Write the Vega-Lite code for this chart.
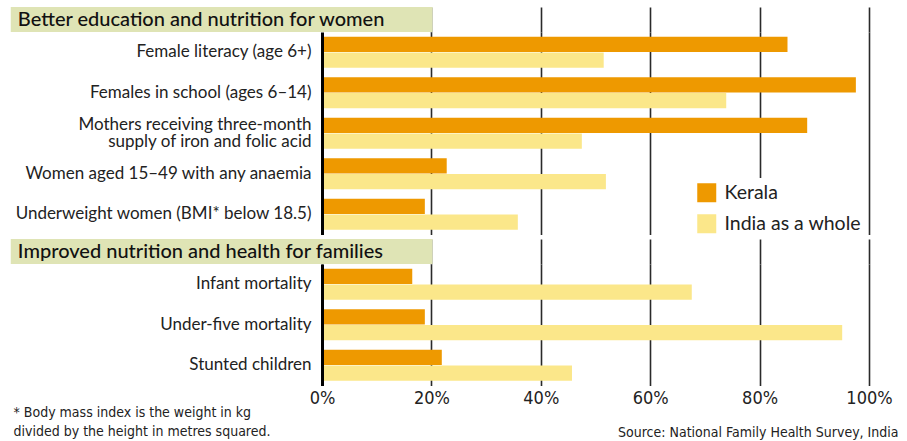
{
  "$schema": "https://vega.github.io/schema/vega-lite/v6.json",
  "background": "white",
  "padding": {"left": 10, "top": 7, "right": 10, "bottom": 0},
  "spacing": 0,
  "config": {
    "view": {"stroke": null},
    "font": "Lato",
    "axis": {"labelColor": "#222", "titleColor": "#222"}
  },
  "datasets": {
    "bars": [
      {"group": "A", "item": "Female literacy (age 6+)", "area": "Kerala", "value": 85.1},
      {"group": "A", "item": "Female literacy (age 6+)", "area": "India as a whole", "value": 51.5},
      {"group": "A", "item": "Females in school (ages 6–14)", "area": "Kerala", "value": 97.6},
      {"group": "A", "item": "Females in school (ages 6–14)", "area": "India as a whole", "value": 73.9},
      {"group": "A", "item": "Mothers receiving three-month|supply of iron and folic acid", "area": "Kerala", "value": 88.7},
      {"group": "A", "item": "Mothers receiving three-month|supply of iron and folic acid", "area": "India as a whole", "value": 47.5},
      {"group": "A", "item": "Women aged 15–49 with any anaemia", "area": "Kerala", "value": 22.8},
      {"group": "A", "item": "Women aged 15–49 with any anaemia", "area": "India as a whole", "value": 51.9},
      {"group": "A", "item": "Underweight women (BMI* below 18.5)", "area": "Kerala", "value": 18.8},
      {"group": "A", "item": "Underweight women (BMI* below 18.5)", "area": "India as a whole", "value": 35.8},
      {"group": "B", "item": "Infant mortality", "area": "Kerala", "value": 16.5},
      {"group": "B", "item": "Infant mortality", "area": "India as a whole", "value": 67.6},
      {"group": "B", "item": "Under-five mortality", "area": "Kerala", "value": 18.8},
      {"group": "B", "item": "Under-five mortality", "area": "India as a whole", "value": 95.1},
      {"group": "B", "item": "Stunted children", "area": "Kerala", "value": 21.9},
      {"group": "B", "item": "Stunted children", "area": "India as a whole", "value": 45.7}
    ],
    "h1": [{"t": "Better education and nutrition for women"}],
    "h2": [{"t": "Improved nutrition and health for families"}]
  },
  "resolve": {"scale": {"color": "independent"}, "legend": {"color": "independent"}},
  "vconcat": [
    {
      "width": 547,
      "height": 25,
      "data": {"name": "h1"},
      "layer": [
        {
          "mark": {"type": "rect", "color": "#DFE4B5"},
          "encoding": {
            "x": {"datum": -56.9, "type": "quantitative", "scale": {"domain": [0, 100], "nice": false},
              "axis": {"grid": true, "labels": false, "ticks": false, "domain": false, "title": null, "values": [20, 40, 60, 80, 100], "gridColor": "#2a2a2a", "gridWidth": 1.6}},
            "x2": {"datum": 20.2}
          }
        },
        {
          "mark": {"type": "text", "align": "left", "baseline": "middle", "font": "Lato", "fontSize": 20, "fontWeight": 500, "color": "#111"},
          "encoding": {
            "x": {"datum": -55.6, "type": "quantitative"},
            "text": {"field": "t"}
          }
        }
      ]
    },
    {
      "width": 547,
      "height": 202.5,
      "data": {"name": "bars"},
      "transform": [{"filter": "datum.group == 'A'"}],
      "mark": {"type": "bar"},
      "encoding": {
        "y": {"field": "item", "type": "nominal", "sort": null,
          "scale": {"paddingInner": 0.235, "paddingOuter": 0.1175},
          "axis": {"title": null, "ticks": false, "tickSize": 0, "labelPadding": 11, "labelFont": "Lato", "labelFontSize": 17, "labelLimit": 400, "labelLineHeight": 17,
            "labelExpr": "split(datum.label, '|')",
            "labelOffset": {"condition": {"test": "indexof(datum.label, '|') >= 0", "value": -8}, "value": 0},
            "domainColor": "#000", "domainWidth": 3, "zindex": 1}},
        "x": {"field": "value", "type": "quantitative", "scale": {"domain": [0, 100], "nice": false},
          "axis": {"grid": true, "labels": false, "ticks": false, "domain": false, "title": null, "values": [20, 40, 60, 80, 100], "gridColor": "#2a2a2a", "gridWidth": 1.6}},
        "yOffset": {"field": "area", "type": "nominal", "sort": ["Kerala", "India as a whole"], "scale": {"paddingInner": 0.033}},
        "color": {"field": "area", "type": "nominal", "sort": ["Kerala", "India as a whole"],
          "scale": {"domain": ["Kerala", "India as a whole"], "range": ["#EE9900", "#FBE78A"]},
          "legend": {"orient": "none", "legendX": 370, "legendY": 146, "title": null, "fillColor": "white", "padding": 5, "symbolType": "square", "symbolSize": 361, "symbolStrokeWidth": 0, "symbolOpacity": 1, "labelFont": "Lato", "labelFontSize": 19.5, "labelColor": "#222", "labelOffset": 8, "rowPadding": 10, "labelLimit": 300}}
      }
    },
    {
      "width": 547,
      "height": 25,
      "data": {"name": "h2"},
      "layer": [
        {
          "mark": {"type": "rect", "color": "#DFE4B5"},
          "encoding": {
            "x": {"datum": -56.9, "type": "quantitative", "scale": {"domain": [0, 100], "nice": false},
              "axis": {"grid": true, "labels": false, "ticks": false, "domain": false, "title": null, "values": [20, 40, 60, 80, 100], "gridColor": "#2a2a2a", "gridWidth": 1.6}},
            "x2": {"datum": 20.2}
          }
        },
        {
          "mark": {"type": "text", "align": "left", "baseline": "middle", "font": "Lato", "fontSize": 20, "fontWeight": 500, "color": "#111"},
          "encoding": {
            "x": {"datum": -55.6, "type": "quantitative"},
            "text": {"field": "t"}
          }
        }
      ]
    },
    {
      "width": 547,
      "height": 121.5,
      "data": {"name": "bars"},
      "transform": [{"filter": "datum.group == 'B'"}],
      "mark": {"type": "bar"},
      "encoding": {
        "y": {"field": "item", "type": "nominal", "sort": null,
          "scale": {"paddingInner": 0.235, "paddingOuter": 0.1175},
          "axis": {"title": ["* Body mass index is the weight in kg", "divided by the height in metres squared."], "titleAngle": 0, "titleAlign": "left", "titleBaseline": "top", "titleX": -309, "titleY": 141, "titleFont": "DejaVu Sans Condensed", "titleFontSize": 14, "titleFontWeight": "normal", "titleLineHeight": 19,
            "ticks": false, "tickSize": 0, "labelPadding": 11, "labelFont": "Lato", "labelFontSize": 17, "labelLimit": 400, "domainColor": "#000", "domainWidth": 3, "zindex": 1}},
        "x": {"field": "value", "type": "quantitative", "scale": {"domain": [0, 100], "nice": false},
          "axis": {"grid": true, "ticks": false, "domain": false, "values": [0, 20, 40, 60, 80, 100], "labelExpr": "datum.value + '%'", "labelFlush": false, "labelFont": "DejaVu Sans Condensed", "labelFontSize": 18, "labelPadding": 4, "gridColor": "#2a2a2a", "gridWidth": 1.6,
            "title": "Source: National Family Health Survey, India", "titleAnchor": "end", "titleAlign": "right", "titleBaseline": "top", "titleX": 576, "titleY": 40, "titleFont": "DejaVu Sans Condensed", "titleFontSize": 14, "titleFontWeight": "normal"}},
        "yOffset": {"field": "area", "type": "nominal", "sort": ["Kerala", "India as a whole"], "scale": {"paddingInner": 0.033}},
        "color": {"field": "area", "type": "nominal", "sort": ["Kerala", "India as a whole"],
          "scale": {"domain": ["Kerala", "India as a whole"], "range": ["#EE9900", "#FBE78A"]},
          "legend": null}
      }
    }
  ]
}
